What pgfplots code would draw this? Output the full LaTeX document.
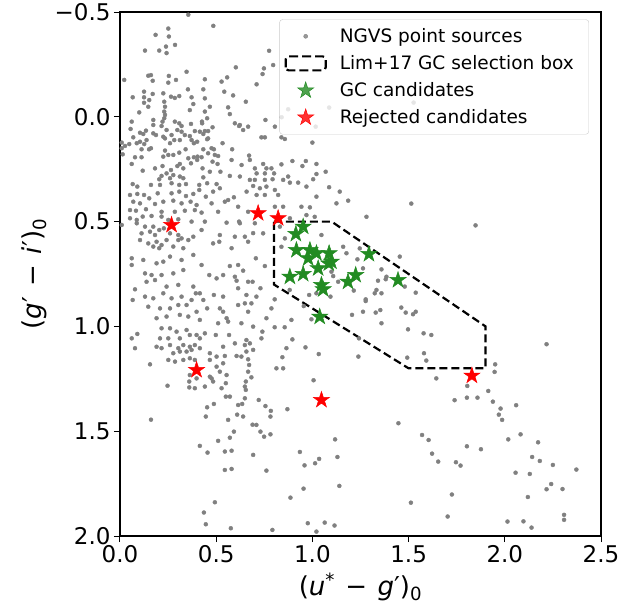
\documentclass[border=0pt]{standalone}
\usepackage{pgfplots}
\pgfplotsset{compat=1.18}
\usepackage{fontspec}
\setmainfont{DejaVu Sans}
\definecolor{ptgray}{HTML}{808080}
\definecolor{gcgreen}{HTML}{228B22}
\definecolor{rejred}{HTML}{FF0000}
\pgfdeclareplotmark{fstar}{%
  \pgfpathmoveto{\pgfpointpolar{90}{\pgfplotmarksize}}%
  \pgfpathlineto{\pgfpointpolar{126}{0.382\pgfplotmarksize}}%
  \pgfpathlineto{\pgfpointpolar{162}{\pgfplotmarksize}}%
  \pgfpathlineto{\pgfpointpolar{198}{0.382\pgfplotmarksize}}%
  \pgfpathlineto{\pgfpointpolar{234}{\pgfplotmarksize}}%
  \pgfpathlineto{\pgfpointpolar{270}{0.382\pgfplotmarksize}}%
  \pgfpathlineto{\pgfpointpolar{306}{\pgfplotmarksize}}%
  \pgfpathlineto{\pgfpointpolar{342}{0.382\pgfplotmarksize}}%
  \pgfpathlineto{\pgfpointpolar{18}{\pgfplotmarksize}}%
  \pgfpathlineto{\pgfpointpolar{54}{0.382\pgfplotmarksize}}%
  \pgfpathclose
  \pgfusepathqfillstroke
}
\pgfplotstableread{
x y
0.355 -0.487
0.485 -0.434
0.251 -0.421
0.185 -0.391
0.254 -0.383
0.286 -0.343
0.239 -0.335
0.130 -0.316
0.204 -0.316
0.242 -0.304
0.775 -0.315
0.602 -0.236
0.346 -0.215
0.147 -0.196
0.161 -0.199
0.254 -0.195
0.022 -0.176
0.170 -0.172
0.251 -0.163
0.291 -0.176
0.441 -0.179
0.528 -0.168
0.557 -0.188
0.353 -0.131
0.433 -0.131
0.125 -0.120
0.170 -0.109
0.225 -0.112
0.542 -0.120
0.066 -0.093
0.125 -0.093
0.265 -0.096
0.285 -0.090
0.308 -0.099
0.372 -0.093
0.441 -0.088
0.588 -0.102
0.125 -0.067
0.152 -0.080
0.230 -0.072
0.381 -0.061
0.467 -0.048
0.562 -0.045
0.147 -0.048
0.234 -0.048
0.363 -0.032
0.100 -0.021
0.230 -0.025
0.234 -0.009
0.441 -0.025
0.571 -0.013
0.230 0.007
0.453 0.007
0.061 0.023
0.173 0.015
0.221 0.023
0.285 0.023
0.308 0.031
0.369 0.034
0.426 0.023
0.427 0.031
0.597 0.031
0.173 0.039
0.216 0.044
0.320 0.044
0.481 0.050
0.619 0.044
0.055 0.058
0.135 0.066
0.173 0.079
0.242 0.063
0.298 0.063
0.320 0.071
0.389 0.068
0.415 0.071
0.441 0.068
0.458 0.068
0.104 0.076
0.121 0.082
0.187 0.087
0.225 0.095
0.234 0.103
0.268 0.087
0.337 0.087
0.363 0.092
0.433 0.082
0.069 0.098
0.104 0.119
0.138 0.111
0.282 0.111
0.311 0.111
0.372 0.111
0.453 0.107
0.009 0.123
0.026 0.139
0.048 0.130
0.087 0.126
0.126 0.130
0.260 0.126
0.384 0.126
0.401 0.119
0.458 0.103
0.533 0.126
0.009 0.150
0.112 0.155
0.151 0.155
0.161 0.150
0.234 0.161
0.341 0.155
0.433 0.155
0.476 0.150
0.488 0.155
0.583 0.155
0.014 0.179
0.078 0.193
0.112 0.193
0.225 0.190
0.251 0.182
0.277 0.182
0.308 0.171
0.355 0.198
0.384 0.193
0.403 0.190
0.424 0.193
0.458 0.174
0.493 0.182
0.510 0.187
0.061 0.225
0.182 0.246
0.221 0.235
0.265 0.254
0.298 0.235
0.311 0.225
0.369 0.222
0.401 0.206
0.481 0.214
0.507 0.225
0.580 0.206
0.118 0.257
0.242 0.270
0.277 0.278
0.329 0.246
0.429 0.246
0.467 0.262
0.522 0.262
0.571 0.282
0.216 0.282
0.260 0.293
0.311 0.285
0.329 0.293
0.433 0.289
0.204 0.298
0.796 -0.247
0.748 -0.231
0.741 -0.204
0.710 -0.155
0.654 -0.072
0.756 0.015
0.623 0.039
0.640 0.063
0.666 0.047
0.805 0.047
0.735 0.098
0.753 0.098
0.839 0.098
0.857 0.106
1.000 0.123
0.874 -0.036
1.087 -0.044
1.017 0.047
0.671 0.185
0.675 0.206
0.632 0.230
0.701 0.246
0.744 0.225
0.761 0.246
0.787 0.246
0.839 0.227
0.896 0.211
0.966 0.211
0.948 0.235
1.021 0.225
0.710 0.270
0.753 0.270
0.801 0.270
0.623 0.285
0.675 0.301
0.701 0.301
0.753 0.301
0.793 0.298
0.848 0.301
0.874 0.285
1.021 0.273
1.069 0.262
0.883 0.314
0.926 0.314
1.004 0.298
0.969 0.333
0.692 0.330
0.727 0.341
0.761 0.333
0.805 0.349
1.087 0.336
1.142 0.357
1.021 0.381
0.710 0.373
0.753 0.373
0.822 0.373
0.658 0.357
1.526 -0.068
0.840 0.002
0.066 0.321
0.090 0.333
0.161 0.325
0.208 0.325
0.268 0.317
0.308 0.325
0.343 0.321
0.412 0.325
0.453 0.317
0.502 0.321
0.052 0.373
0.090 0.368
0.125 0.373
0.152 0.389
0.196 0.365
0.268 0.365
0.308 0.357
0.343 0.378
0.381 0.368
0.412 0.349
0.446 0.381
0.484 0.357
0.519 0.341
0.592 0.384
0.069 0.405
0.104 0.413
0.182 0.416
0.225 0.405
0.277 0.400
0.320 0.413
0.367 0.405
0.398 0.421
0.476 0.413
0.545 0.405
0.562 0.397
0.614 0.429
0.052 0.445
0.083 0.448
0.135 0.441
0.216 0.453
0.285 0.453
0.337 0.448
0.389 0.445
0.424 0.457
0.510 0.453
0.666 0.453
0.052 0.484
0.087 0.492
0.118 0.476
0.164 0.473
0.216 0.476
0.251 0.492
0.303 0.489
0.372 0.500
0.441 0.500
0.554 0.505
0.619 0.500
0.009 0.516
0.087 0.508
0.130 0.524
0.173 0.524
0.204 0.540
0.228 0.532
0.424 0.540
0.320 0.580
0.112 0.556
0.156 0.548
0.182 0.564
0.260 0.556
0.303 0.564
0.355 0.588
0.381 0.572
0.519 0.564
0.597 0.572
0.649 0.572
0.666 0.596
0.623 0.508
0.104 0.588
0.147 0.604
0.190 0.596
0.216 0.612
0.242 0.588
0.303 0.588
0.484 0.604
0.516 0.596
0.580 0.627
0.173 0.619
0.204 0.627
0.277 0.619
0.329 0.627
0.701 0.508
0.692 0.555
0.805 0.429
0.848 0.429
0.943 0.429
0.987 0.432
1.125 0.413
1.186 0.400
1.281 0.477
0.969 0.469
1.012 0.477
0.883 0.484
0.744 0.556
0.831 0.524
0.857 0.580
1.047 0.564
0.839 0.620
1.160 0.620
1.246 0.628
1.514 0.414
1.848 0.518
0.061 0.675
0.061 0.707
0.121 0.683
0.190 0.699
0.225 0.691
0.260 0.667
0.320 0.683
0.381 0.659
0.424 0.707
0.130 0.747
0.164 0.755
0.216 0.755
0.277 0.747
0.329 0.731
0.464 0.755
0.502 0.771
0.536 0.755
0.571 0.712
0.614 0.707
0.597 0.763
0.640 0.734
0.606 0.782
0.666 0.787
0.689 0.787
0.706 0.675
0.753 0.712
0.138 0.787
0.182 0.779
0.242 0.810
0.303 0.802
0.381 0.810
0.394 0.842
0.415 0.842
0.078 0.823
0.130 0.858
0.173 0.866
0.225 0.842
0.268 0.866
0.320 0.858
0.372 0.874
0.433 0.874
0.488 0.850
0.536 0.858
0.614 0.818
0.657 0.850
0.709 0.858
0.730 0.818
0.066 0.874
0.147 0.906
0.208 0.914
0.260 0.914
0.303 0.898
0.346 0.898
0.398 0.930
0.453 0.914
0.519 0.914
0.536 0.930
0.614 0.898
0.649 0.890
0.666 0.930
0.683 0.890
0.761 0.961
0.787 0.914
0.804 0.871
0.882 0.826
0.190 0.961
0.242 0.953
0.311 0.945
0.355 0.953
0.415 0.969
0.510 0.985
0.554 0.961
0.562 0.977
0.631 0.985
0.692 1.001
0.804 1.004
0.856 1.004
0.891 0.969
0.061 1.057
0.090 1.036
0.216 1.009
0.260 1.009
0.294 1.025
0.346 1.017
0.398 1.041
0.208 1.057
0.251 1.057
0.311 1.057
0.363 1.041
0.415 1.057
0.441 1.033
0.498 1.041
0.567 1.041
0.657 1.065
0.740 1.025
0.735 1.057
0.896 1.062
0.078 1.104
0.190 1.097
0.216 1.104
0.260 1.089
0.303 1.104
0.329 1.089
0.363 1.097
0.389 1.089
0.415 1.104
0.536 1.097
0.597 1.081
0.649 1.089
0.675 1.081
0.692 1.112
0.865 1.104
0.277 1.128
0.311 1.120
0.346 1.120
0.372 1.112
0.467 1.128
0.502 1.144
0.545 1.141
0.606 1.141
0.631 1.144
0.657 1.120
0.844 1.147
0.251 1.160
0.286 1.168
0.329 1.160
0.363 1.152
0.389 1.160
0.467 1.160
0.666 1.157
0.156 1.181
0.502 1.192
0.536 1.176
0.671 1.184
0.813 1.200
0.848 1.200
0.363 1.232
0.398 1.248
0.467 1.240
0.519 1.216
0.554 1.232
0.666 1.216
0.683 1.243
0.247 1.283
0.360 1.263
0.360 1.291
0.389 1.295
0.441 1.287
0.476 1.248
0.484 1.263
0.528 1.295
0.550 1.271
0.654 1.263
0.649 1.287
0.654 1.303
0.571 1.335
0.550 1.335
0.614 1.375
0.635 1.370
0.649 1.343
0.721 1.351
0.756 1.380
0.784 1.403
0.782 1.430
0.870 1.395
0.453 1.386
0.488 1.370
0.446 1.430
0.562 1.446
0.609 1.421
0.640 1.430
0.689 1.469
0.709 1.470
0.730 1.502
0.749 1.526
0.782 1.515
0.592 1.502
0.571 1.531
0.510 1.546
0.761 1.688
0.161 1.445
0.415 1.570
0.455 1.602
0.545 1.597
0.580 1.593
0.692 1.613
0.545 1.685
0.580 1.680
0.493 1.839
0.436 1.888
0.446 1.944
0.576 1.963
0.792 1.971
0.886 1.817
1.454 0.667
1.359 0.728
1.263 0.723
1.341 0.782
1.385 0.763
1.381 0.775
1.480 0.810
1.537 0.839
1.359 0.842
1.324 0.842
1.333 0.826
1.215 0.829
1.099 0.739
1.108 0.760
1.177 0.651
1.234 0.680
1.134 0.787
1.094 0.858
0.983 0.850
1.021 0.842
0.955 0.903
0.995 0.966
1.277 0.871
1.277 0.879
1.462 0.910
1.485 0.934
1.537 0.930
1.523 0.942
1.263 0.930
1.329 0.934
1.353 0.922
1.206 0.945
1.359 0.985
1.497 1.014
1.578 1.033
1.618 1.041
1.242 1.057
0.964 1.100
1.033 1.132
1.239 1.144
1.493 1.149
1.580 1.128
1.592 1.163
2.217 1.085
1.950 1.181
1.947 1.217
1.644 1.248
1.805 1.284
1.006 1.257
1.914 1.308
1.938 1.359
1.978 1.392
1.969 1.421
1.986 1.446
2.059 1.376
1.803 1.340
1.858 1.340
1.739 1.352
1.447 1.462
1.570 1.518
1.604 1.542
1.622 1.607
1.654 1.645
1.746 1.648
1.770 1.664
1.803 1.572
1.876 1.586
2.018 1.539
2.082 1.515
2.173 1.553
2.142 1.623
2.182 1.642
2.250 1.661
2.372 1.683
2.056 1.698
2.130 1.704
2.241 1.752
2.217 1.777
2.300 1.776
2.120 1.814
2.308 1.899
2.308 1.923
2.014 1.931
2.097 1.930
2.139 1.960
1.725 1.802
1.703 1.907
1.512 1.841
1.118 1.539
1.130 1.623
1.140 1.761
1.035 1.632
1.014 1.653
0.959 1.663
0.935 1.599
0.954 1.774
0.976 1.939
1.064 1.936
1.115 1.950
1.021 1.979
}\ptdata
\begin{document}
\begin{tikzpicture}
\begin{axis}[
  name=ax,
  scale only axis,
  width=481pt, height=524pt,
  xmin=0, xmax=2.5, ymin=-0.5, ymax=2.0,
  y dir=reverse,
  axis line style={line width=1.1pt},
  xtick={0,0.5,1,1.5,2,2.5},
  xticklabels={0.0,0.5,1.0,1.5,2.0,2.5},
  ytick={-0.5,0,0.5,1,1.5,2},
  yticklabels={−0.5,0.0,0.5,1.0,1.5,2.0},
  tick align=outside,
  xtick pos=bottom, ytick pos=left,
  major tick length=6pt,
  every tick/.style={black, line width=1pt},
  tick label style={font=\fontsize{23}{27}\selectfont},
  label style={font=\fontsize{26}{30}\selectfont},
  xlabel={(\textit{u}\textsuperscript{*}\hspace{0.4em}−\hspace{0.4em}\textit{g}′)\textsubscript{0}},
  ylabel={(\textit{g}′\hspace{0.4em}−\hspace{0.4em}\textit{i}′)\textsubscript{0}},
  xlabel style={yshift=-3pt},
  ylabel style={yshift=1pt},
  legend style={
    at={(0.975,0.986)}, anchor=north east,
    draw=black!20, rounded corners=3pt, fill=white, fill opacity=0.8, text opacity=1,
    font=\fontsize{18.5}{22}\selectfont,
    row sep=7.5pt, inner xsep=5pt, inner ysep=7pt,
    /tikz/every odd column/.append style={column sep=11pt},
  },
  legend cell align=left,
]
\addplot[only marks, mark=*, mark size=2pt, color=ptgray, mark options={draw=ptgray, fill=ptgray},
  legend image code/.code={\path (0pt,0pt) (40pt,0pt); \fill[ptgray] (20pt,0pt) circle[radius=2pt];}]
  table[x=x, y=y] {\ptdata};
\addlegendentry{NGVS point sources}
\addplot[black, line width=2.2pt, dash pattern=on 8pt off 4pt,
  legend image code/.code={\draw[black, line width=2.2pt, dash pattern=on 9pt off 4pt] (0pt,-7pt) rectangle (40pt,7pt);}]
  coordinates {(0.8,0.5) (1.1,0.5) (1.9,1.0) (1.9,1.2) (1.5,1.2) (0.8,0.8) (0.8,0.5)};
\addlegendentry{Lim+17 GC selection box\rule{8pt}{0pt}}
\addplot[only marks, mark=fstar, mark size=8.5pt, color=gcgreen, mark options={draw=gcgreen, fill=gcgreen, line width=0.5pt},
  legend image code/.code={\path (0pt,0pt) (40pt,0pt); \draw[gcgreen, fill=gcgreen, line width=0.5pt, only marks, mark=fstar, mark size=8.5pt] plot coordinates {(20pt,0pt)};}]
  coordinates {(0.952,0.524) (0.914,0.559) (0.917,0.636) (0.987,0.636) (1.021,0.651) (1.087,0.651) (0.978,0.675) (1.099,0.691) (1.030,0.723) (0.883,0.763) (0.952,0.750) (1.047,0.802) (1.056,0.823) (1.185,0.787) (1.225,0.755) (1.294,0.655) (1.445,0.779) (1.038,0.954) (1.085,0.700)};
\addlegendentry{GC candidates}
\addplot[only marks, mark=fstar, mark size=8.5pt, color=rejred, mark options={draw=rejred, fill=rejred, line width=0.5pt},
  legend image code/.code={\path (0pt,0pt) (40pt,0pt); \draw[rejred, fill=rejred, line width=0.5pt, only marks, mark=fstar, mark size=8.5pt] plot coordinates {(20pt,0pt)};}]
  coordinates {(0.268,0.516) (0.718,0.460) (0.822,0.484) (0.398,1.208) (1.047,1.351) (1.829,1.235)};
\addlegendentry{Rejected candidates}
\end{axis}
\pgfresetboundingbox
\path (ax.south west) ++(-120pt,-75pt) rectangle ++(619pt,611pt);
\end{tikzpicture}
\end{document}
